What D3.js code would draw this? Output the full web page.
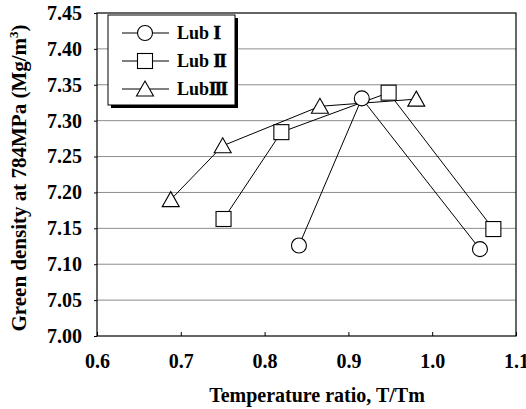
<!DOCTYPE html>
<html>
<head>
<meta charset="utf-8">
<script src="https://cdn.jsdelivr.net/npm/d3@7"></script>
<style>
  body { margin: 0; background: #fff; }
  svg text { font-family: "Liberation Serif", "Times New Roman", serif; font-weight: bold; }
</style>
</head>
<body>
<div id="chart"></div>
<script>
// data
var lub1X = [0.841, 0.916, 1.057];
var lub1Y = [7.126, 7.331, 7.121];
var lub2X = [0.751, 0.820, 0.948, 1.073];
var lub2Y = [7.163, 7.284, 7.339, 7.149];
var lub3X = [0.688, 0.750, 0.866, 0.981];
var lub3Y = [7.190, 7.265, 7.320, 7.330];
var xTicks = [0.6, 0.7, 0.8, 0.9, 1.0, 1.1];
var yTicks = [7.00, 7.05, 7.10, 7.15, 7.20, 7.25, 7.30, 7.35, 7.40, 7.45];
var seriesNames = ["Lub ", "Lub ", "Lub"];
var seriesNumerals = ["I", "II", "III"];  // drawn as joined serif bars, like Ⅰ Ⅱ Ⅲ
var seriesShapes = ["circle", "square", "triangle"];

var W = 526, H = 409;
var margin = {top: 13, right: 10, bottom: 73, left: 97};
var serif = '"Liberation Serif", "Times New Roman", serif';

var svg = d3.select("#chart").append("svg")
  .attr("width", W).attr("height", H);

var x = d3.scaleLinear().domain([0.6, 1.1]).range([margin.left, W - margin.right]);
var y = d3.scaleLinear().domain([7.00, 7.45]).range([H - margin.bottom, margin.top]);

// gridlines
svg.append("g").selectAll("line")
  .data(yTicks.slice(1, -1))
  .enter().append("line")
  .attr("x1", x(0.6)).attr("x2", x(1.1))
  .attr("y1", d => y(d)).attr("y2", d => y(d))
  .attr("stroke", "#8c8c8c").attr("stroke-width", 1);

// frame
svg.append("rect")
  .attr("x", x(0.6)).attr("y", y(7.45))
  .attr("width", x(1.1) - x(0.6)).attr("height", y(7.00) - y(7.45))
  .attr("fill", "none").attr("stroke", "#000").attr("stroke-width", 1.2);

// y axis
var yAxis = d3.axisLeft(y).tickValues(yTicks).tickFormat(d3.format(".2f")).tickSize(3).tickPadding(12);
var gy = svg.append("g").attr("transform", "translate(" + x(0.6) + ",0)").call(yAxis);
gy.select(".domain").remove();
gy.selectAll("text").style("font-family", serif).style("font-weight", "bold")
  .style("font-size", "20px").attr("fill", "#000");

// x axis, ticks point inward
var xAxis = d3.axisTop(x).tickValues(xTicks).tickFormat(d3.format(".1f")).tickSize(4);
var gx = svg.append("g").attr("transform", "translate(0," + y(7.00) + ")").call(xAxis);
gx.select(".domain").remove();
gx.selectAll("text").style("font-family", serif).style("font-weight", "bold")
  .style("font-size", "20px").attr("fill", "#000")
  .attr("y", 32).attr("dy", 0);

// axis titles
svg.append("text")
  .attr("x", 317).attr("y", 402)
  .attr("text-anchor", "middle").attr("font-size", 20)
  .text("Temperature ratio, T/Tm");

var ylab = svg.append("text")
  .attr("transform", "translate(26," + 178 + ") rotate(-90)")
  .attr("text-anchor", "middle").attr("font-size", 21);
ylab.append("tspan").text("Green density at 784MPa (Mg/m");
ylab.append("tspan").attr("font-size", 13).attr("dy", -8).text("3");
ylab.append("tspan").attr("dy", 8).text(")");

var line = d3.line().x(d => x(d[0])).y(d => y(d[1]));

function drawMarker(g, shape, cx, cy) {
  if (shape === "circle") {
    g.append("circle").attr("cx", cx).attr("cy", cy).attr("r", 7.5)
      .attr("fill", "#fff").attr("stroke", "#000").attr("stroke-width", 1.1);
  } else if (shape === "square") {
    g.append("rect").attr("x", cx - 7.5).attr("y", cy - 7.5).attr("width", 15).attr("height", 15)
      .attr("fill", "#fff").attr("stroke", "#000").attr("stroke-width", 1.1);
  } else {
    g.append("path")
      .attr("d", "M" + cx + "," + (cy - 8) + "L" + (cx + 8.5) + "," + (cy + 7) + "L" + (cx - 8.5) + "," + (cy + 7) + "Z")
      .attr("fill", "#fff").attr("stroke", "#000").attr("stroke-width", 1.1);
  }
}

var series = [
  d3.zip(lub1X, lub1Y),
  d3.zip(lub2X, lub2Y),
  d3.zip(lub3X, lub3Y)
];

series.forEach(function(pts, i) {
  svg.append("path").attr("d", line(pts))
    .attr("fill", "none").attr("stroke", "#000").attr("stroke-width", 1);
});
series.forEach(function(pts, i) {
  var g = svg.append("g");
  pts.forEach(p => drawMarker(g, seriesShapes[i], x(p[0]), y(p[1])));
});

// legend
var lg = svg.append("g");
lg.append("rect").attr("x", 111).attr("y", 18).attr("width", 127).attr("height", 90).attr("fill", "#000");
lg.append("rect").attr("x", 108).attr("y", 15).attr("width", 127).attr("height", 90)
  .attr("fill", "#fff").attr("stroke", "#000").attr("stroke-width", 1);
seriesNames.forEach(function(name, i) {
  var ly = 33 + i * 28;
  lg.append("line").attr("x1", 122).attr("x2", 169).attr("y1", ly).attr("y2", ly)
    .attr("stroke", "#000").attr("stroke-width", 1);
  drawMarker(lg, seriesShapes[i], 145, ly);
  var t = lg.append("text").attr("x", 177).attr("y", ly + 6).attr("font-size", 18);
  t.append("tspan").text(name);
  t.append("tspan").attr("font-size", 19).attr("letter-spacing", -1.6)
    .attr("font-weight", 900).attr("stroke", "#000").attr("stroke-width", 0.6)
    .text(seriesNumerals[i]);
});
</script>
</body>
</html>
